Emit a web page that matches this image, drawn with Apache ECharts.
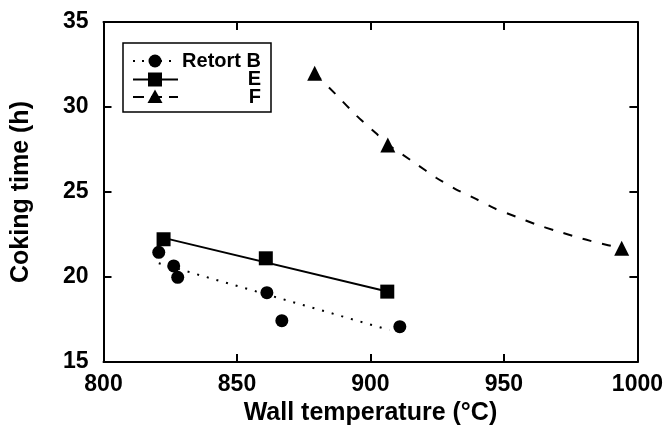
<!DOCTYPE html>
<html>
<head>
<meta charset="utf-8">
<script src="https://cdn.jsdelivr.net/npm/echarts@6/dist/echarts.min.js"></script>
<style>html,body{margin:0;padding:0;background:#fff;}#c{width:666px;height:434px;}</style>
</head>
<body>
<div id="c"></div>
<script>
// Measured data (wall temperature in °C, coking time in h)
const tempB = [820.7, 826.3, 827.8, 861.2, 866.8, 911.0];
const timeB = [21.45, 20.65, 19.98, 19.08, 17.43, 17.08];
const tempE = [822.5, 860.8, 906.3];
const timeE = [22.22, 21.1, 19.14];
const tempF = [879.1, 906.5, 994.1];
const timeF = [31.98, 27.76, 21.69];
// Fitted curves
const fitBTemp = [820.7, 907.1];
const fitBTime = [20.81, 16.88];
const fitETemp = [822.5, 906.3];
const fitETime = [22.3, 19.15];
const fitFTemp = [879.1, 887.3, 894.7, 902.1, 906.5, 916.8, 924.6, 932.0, 939.5, 947.0, 954.5, 961.9, 969.4, 976.9, 984.4, 994.1];
const fitFTime = [31.98, 30.7, 29.5, 28.45, 27.8, 26.69, 25.84, 25.16, 24.59, 24.0, 23.55, 23.1, 22.72, 22.37, 22.04, 21.69];
const xTicks = [800, 850, 900, 950, 1000];
const yTicks = [15, 20, 25, 30, 35];
const legendNames = ['Retort B', 'E', 'F'];

const zip = (a, b) => a.map((v, i) => [v, b[i]]);
const FONT = '"Liberation Sans", Arial, Helvetica, sans-serif';
const chart = echarts.init(document.getElementById('c'), null, {renderer: 'canvas'});

const axisCommon = {
  axisLine: {show: true, lineStyle: {color: '#000', width: 2}},
  axisTick: {show: true, inside: true, length: 8, lineStyle: {color: '#000', width: 2}},
  splitLine: {show: false}
};
const labelStyle = {color: '#000', fontFamily: FONT, fontWeight: 'bold', fontSize: 23};
const nameStyle = {color: '#000', fontFamily: FONT, fontWeight: 'bold', fontSize: 25};

const option = {
  backgroundColor: '#fff',
  animation: false,
  grid: {left: 103.5, right: 27, top: 22, bottom: 72},
  xAxis: [
    Object.assign({type: 'value', position: 'bottom', min: xTicks[0], max: xTicks[xTicks.length - 1], interval: 50,
      axisLabel: Object.assign({margin: 11, formatter: v => String(v)}, labelStyle),
      name: 'Wall temperature (°C)', nameLocation: 'middle', nameGap: 39,
      nameTextStyle: nameStyle}, axisCommon),
    Object.assign({type: 'value', position: 'top', min: xTicks[0], max: xTicks[xTicks.length - 1], interval: 50,
      axisLabel: {show: false}}, axisCommon)
  ],
  yAxis: [
    Object.assign({type: 'value', position: 'left', min: yTicks[0], max: yTicks[yTicks.length - 1], interval: 5,
      axisLabel: Object.assign({margin: 15, formatter: v => String(v)}, labelStyle),
      name: 'Coking time (h)', nameLocation: 'middle', nameGap: 70,
      nameTextStyle: nameStyle}, axisCommon),
    Object.assign({type: 'value', position: 'right', min: yTicks[0], max: yTicks[yTicks.length - 1], interval: 5,
      axisLabel: {show: false}}, axisCommon)
  ],
  series: [
    {name: 'fitB', type: 'line', data: zip(fitBTemp, fitBTime), symbol: 'none',
      lineStyle: {color: '#000', width: 2, type: [2, 8]}},
    {name: 'fitE', type: 'line', data: zip(fitETemp, fitETime), symbol: 'none',
      lineStyle: {color: '#000', width: 2}},
    {name: 'fitF', type: 'line', data: zip(fitFTemp, fitFTime), symbol: 'none', smooth: 0.2,
      lineStyle: {color: '#000', width: 2, type: [9, 11]}},
    {name: legendNames[0], type: 'scatter', data: zip(tempB, timeB), symbol: 'circle', symbolSize: 13,
      itemStyle: {color: '#000', opacity: 1}},
    {name: legendNames[1], type: 'scatter', data: zip(tempE, timeE), symbol: 'rect', symbolSize: 14,
      itemStyle: {color: '#000', opacity: 1}},
    {name: legendNames[2], type: 'scatter', data: zip(tempF, timeF), symbol: 'triangle', symbolSize: 15,
      itemStyle: {color: '#000', opacity: 1}}
  ],
  graphic: [
    {type: 'rect', shape: {x: 123, y: 43, width: 148, height: 69}, style: {fill: '#fff', stroke: '#000', lineWidth: 1.5}, z: 10},
    {type: 'line', shape: {x1: 133, y1: 61, x2: 178, y2: 61}, style: {stroke: '#000', lineWidth: 2, lineDash: [2, 7]}, z: 11},
    {type: 'circle', shape: {cx: 155, cy: 61, r: 6.5}, style: {fill: '#000'}, z: 12},
    {type: 'text', x: 261, y: 61, style: {text: legendNames[0], align: 'right', verticalAlign: 'middle', fill: '#000', font: 'bold 20px ' + FONT}, z: 12},
    {type: 'line', shape: {x1: 133, y1: 79.5, x2: 178, y2: 79.5}, style: {stroke: '#000', lineWidth: 2}, z: 11},
    {type: 'rect', shape: {x: 148, y: 72.5, width: 14, height: 14}, style: {fill: '#000'}, z: 12},
    {type: 'text', x: 261, y: 79.5, style: {text: legendNames[1], align: 'right', verticalAlign: 'middle', fill: '#000', font: 'bold 20px ' + FONT}, z: 12},
    {type: 'line', shape: {x1: 133, y1: 97, x2: 178, y2: 97}, style: {stroke: '#000', lineWidth: 2, lineDash: [11, 7]}, z: 11},
    {type: 'polygon', shape: {points: [[155, 89.5], [162.5, 103], [147.5, 103]]}, style: {fill: '#000'}, z: 12},
    {type: 'text', x: 261, y: 97, style: {text: legendNames[2], align: 'right', verticalAlign: 'middle', fill: '#000', font: 'bold 20px ' + FONT}, z: 12}
  ]
};
chart.setOption(option);
</script>
</body>
</html>
